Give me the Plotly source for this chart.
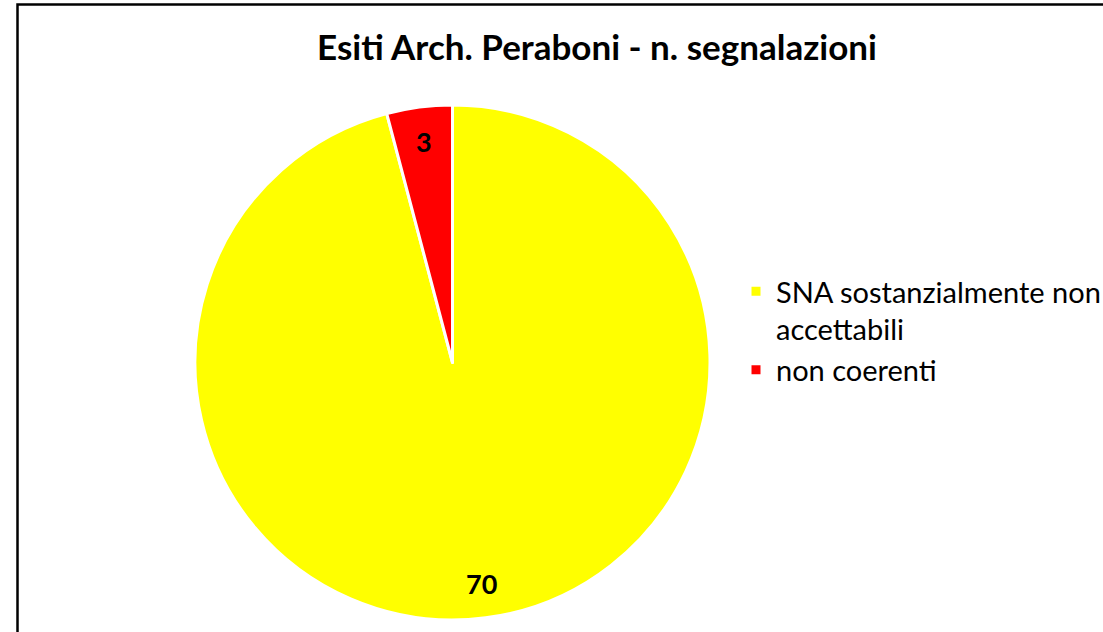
import math

import plotly.graph_objects as go

labels = ["SNA sostanzialmente non<br>accettabili", "non coerenti"]
values = [70, 3]
colors = ["#FFFF00", "#FF0000"]
title = "Esiti Arch. Peraboni - n. segnalazioni"

W, H = 1103, 632
cx, cy, R = 452.5, 362.5, 257.5  # pie centre and radius in pixels

fig = go.Figure(
    go.Pie(
        labels=labels,
        values=values,
        sort=False,
        direction="clockwise",
        rotation=0,
        marker=dict(colors=colors, line=dict(color="white", width=3)),
        textinfo="none",
        hoverinfo="label+value",
        domain=dict(
            x=[(cx - R) / W, (cx + R) / W],
            y=[1 - (cy + R) / H, 1 - (cy - R) / H],
        ),
    )
)

# value labels, placed near the rim at each slice's mid angle
total = sum(values)
start = 0.0
for v in values:
    mid = math.radians((start + v / 2) / total * 360)
    start += v
    r = 0.865 * R
    px_ = cx + r * math.sin(mid)
    py_ = cy - r * math.cos(mid)
    fig.add_annotation(
        x=px_ / W, y=1 - py_ / H, xref="paper", yref="paper",
        xanchor="center", yanchor="middle",
        text=f"<b>{v}</b>", showarrow=False,
        font=dict(size=27, color="black"),
    )

fig.add_shape(
    type="rect", xref="paper", yref="paper",
    x0=17.5 / W, x1=1.05, y0=-0.05, y1=1 - 4.5 / H,
    line=dict(color="black", width=2.5),
)

fig.update_layout(
    width=W,
    height=H,
    margin=dict(l=0, r=0, t=0, b=0, autoexpand=False),
    paper_bgcolor="white",
    font=dict(family="Lato, Open Sans, sans-serif", color="black"),
    title=dict(
        text=f"<b>{title}</b>",
        x=597 / W, xanchor="center",
        y=1 - 48 / H, yanchor="middle",
        font=dict(size=35, color="black"),
    ),
    legend=dict(
        x=736 / W, xanchor="left",
        y=1 - 266 / H, yanchor="top",
        font=dict(size=29),
        valign="top",
        tracegroupgap=0,
        itemwidth=30,
    ),
)

fig.write_html(
    "out.html",
    config={"displayModeBar": False},
    post_script="document.body.style.margin='0';",
)
